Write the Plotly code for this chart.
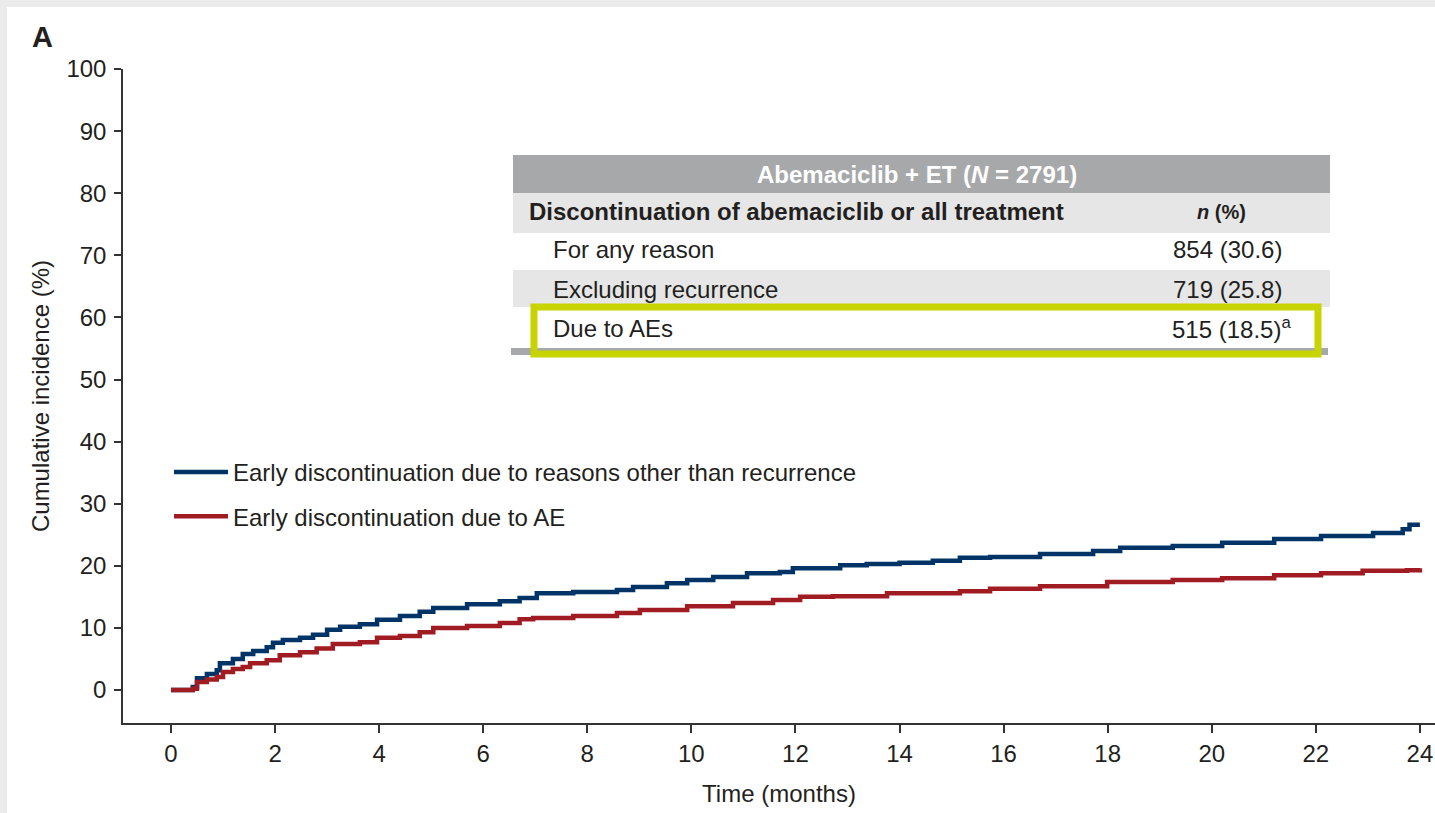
import plotly.graph_objects as go

# Cumulative incidence of early discontinuation (step curves), months vs %
time_other = [0, 0.42, 0.5, 0.69, 0.88, 0.94, 1.19, 1.38, 1.58, 1.84, 1.96, 2.15, 2.48, 2.73,
              3.0, 3.25, 3.63, 3.96, 4.4, 4.78, 5.04, 5.69, 6.32, 6.7, 7.03, 7.73, 8.57, 8.88,
              9.53, 9.92, 10.42, 11.07, 11.7, 11.95, 12.86, 13.37, 14.0, 14.64, 15.16, 15.74,
              16.7, 17.72, 18.24, 19.25, 20.2, 21.2, 22.1, 23.1, 23.67, 23.8, 24.0]
inc_other = [0, 0.5, 1.9, 2.6, 3.2, 4.3, 5.0, 5.8, 6.3, 6.9, 7.6, 8.05, 8.4, 8.9,
             9.7, 10.2, 10.6, 11.3, 11.9, 12.6, 13.2, 13.8, 14.3, 14.8, 15.6, 15.8, 16.1, 16.6,
             17.2, 17.7, 18.2, 18.8, 19.0, 19.6, 20.1, 20.3, 20.5, 20.8, 21.3, 21.4,
             21.9, 22.4, 22.9, 23.2, 23.7, 24.3, 24.8, 25.3, 25.9, 26.6, 26.6]

time_ae = [0, 0.42, 0.5, 0.69, 0.88, 1.0, 1.19, 1.38, 1.52, 1.84, 2.09, 2.48, 2.8, 3.11,
           3.63, 3.96, 4.4, 4.78, 5.04, 5.69, 6.32, 6.7, 6.96, 7.73, 8.57, 9.01, 9.92, 10.8,
           11.57, 12.09, 12.72, 13.76, 14.64, 15.16, 15.74, 16.7, 17.99, 19.25, 20.2, 21.2,
           22.1, 22.9, 23.75, 24.0]
inc_ae = [0, 0.2, 1.3, 1.7, 2.1, 2.9, 3.4, 3.7, 4.3, 4.8, 5.6, 6.1, 6.7, 7.4,
          7.7, 8.4, 8.7, 9.3, 10.0, 10.3, 10.8, 11.4, 11.6, 11.9, 12.4, 12.9, 13.5, 14.0,
          14.5, 15.0, 15.1, 15.6, 15.6, 15.9, 16.3, 16.7, 17.4, 17.7, 18.0, 18.5,
          18.8, 19.2, 19.3, 19.6]

series_names = ["Early discontinuation due to reasons other than recurrence",
                "Early discontinuation due to AE"]

x_ticks = list(range(0, 25, 2))
y_ticks = list(range(0, 101, 10))

# Inset summary table
table_title = "Abemaciclib + ET (<i>N</i> = 2791)"
table_col_head = ["Discontinuation of abemaciclib or all treatment", "<i>n</i> (%)"]
table_labels = ["For any reason", "Excluding recurrence", "Due to AEs"]
table_values = ["854 (30.6)", "719 (25.8)", "515 (18.5)<sup>a</sup>"]

W, H = 1435, 813
ML, MR, MT, MB = 123, 0, 69, 90
FONT = "Liberation Sans, Arial, Helvetica, sans-serif"
FS = 24
TXT = "#231f20"
BLUE = "#003467"
RED = "#a01c22"
GRAY = "#a7a8aa"
LIGHT = "#e6e6e6"
HILITE = "#c8d400"


def px(x):
    return (x - ML) / (W - ML - MR)


def py(y):
    return (H - MB - y) / (H - MT - MB)


def note(text, x, y, anchor, size, color=TXT):
    return dict(text=text, xref="paper", yref="paper", x=px(x), y=py(y), xanchor=anchor,
                yanchor="middle", showarrow=False, font=dict(size=size, color=color, family=FONT))


fig = go.Figure()
fig.add_trace(go.Scatter(x=time_other, y=inc_other, mode="lines", name=series_names[0],
                         line=dict(color=BLUE, width=4.5, shape="hv"), legendgroup="a"))
fig.add_trace(go.Scatter(x=time_ae, y=inc_ae, mode="lines", name=series_names[1],
                         line=dict(color=RED, width=4.5, shape="hv"), legendgroup="b"))

shapes = [
    # page frame
    dict(type="rect", xref="paper", yref="paper", x0=px(7), x1=px(1460), y0=py(7), y1=py(840),
         fillcolor="white", line=dict(width=0), layer="below"),
    # table bands
    dict(type="rect", xref="paper", yref="paper", x0=px(513), x1=px(1330), y0=py(155), y1=py(193),
         fillcolor=GRAY, line=dict(width=0)),
    dict(type="rect", xref="paper", yref="paper", x0=px(513), x1=px(1330), y0=py(193), y1=py(233),
         fillcolor=LIGHT, line=dict(width=0)),
    dict(type="rect", xref="paper", yref="paper", x0=px(513), x1=px(1330), y0=py(270), y1=py(307),
         fillcolor=LIGHT, line=dict(width=0)),
    dict(type="rect", xref="paper", yref="paper", x0=px(511), x1=px(1328), y0=py(348), y1=py(355),
         fillcolor=GRAY, line=dict(width=0)),
    # highlighted row
    dict(type="rect", xref="paper", yref="paper", x0=px(534), x1=px(1318), y0=py(307), y1=py(354),
         fillcolor="rgba(0,0,0,0)", line=dict(color=HILITE, width=7)),
]

annotations = [
    note("<b>A</b>", 30, 37, "left", 29),
    note("<b>" + table_title + "</b>", 917, 174, "center", FS, "white"),
    note("<b>" + table_col_head[0] + "</b>", 527, 212, "left", FS),
    note("<b>" + table_col_head[1] + "</b>", 1221, 212, "center", 20),
]
row_y = [250, 289, 328]
for lab, val, ry in zip(table_labels, table_values, row_y):
    annotations.append(note(lab, 551, ry, "left", FS))
    right_edge = 1293 if "<sup>" in val else 1284
    annotations.append(note(val, right_edge, ry, "right", FS))

fig.update_layout(
    width=W, height=H,
    margin=dict(l=ML, r=MR, t=MT, b=MB, autoexpand=False),
    paper_bgcolor="#ebebeb",
    plot_bgcolor="white",
    font=dict(family=FONT, size=FS, color=TXT),
    shapes=shapes,
    annotations=annotations,
    showlegend=True,
    legend=dict(x=px(169), y=py(450), xanchor="left", yanchor="top",
                bgcolor="rgba(0,0,0,0)", borderwidth=0, tracegroupgap=10,
                itemwidth=54, font=dict(size=FS, color=TXT, family=FONT)),
    xaxis=dict(range=[-0.922, 24.29], tickvals=x_ticks, ticks="outside", ticklen=8, tickwidth=1.5,
               tickcolor="#333", showline=True, linecolor="#333", linewidth=1.5, showgrid=False,
               zeroline=False, tickfont=dict(size=FS), automargin=False,
               title=dict(text="Time (months)", font=dict(size=FS), standoff=20)),
    yaxis=dict(range=[-5.31, 100], tickvals=y_ticks, ticks="outside", ticklen=7, tickwidth=1.5,
               tickcolor="#333", showline=True, linecolor="#333", linewidth=1.5, showgrid=False,
               zeroline=False, tickfont=dict(size=FS), automargin=False, ticklabelstandoff=3,
               title=dict(text="Cumulative incidence (%)", font=dict(size=FS), standoff=10)),
)

fig.write_html("out.html")
